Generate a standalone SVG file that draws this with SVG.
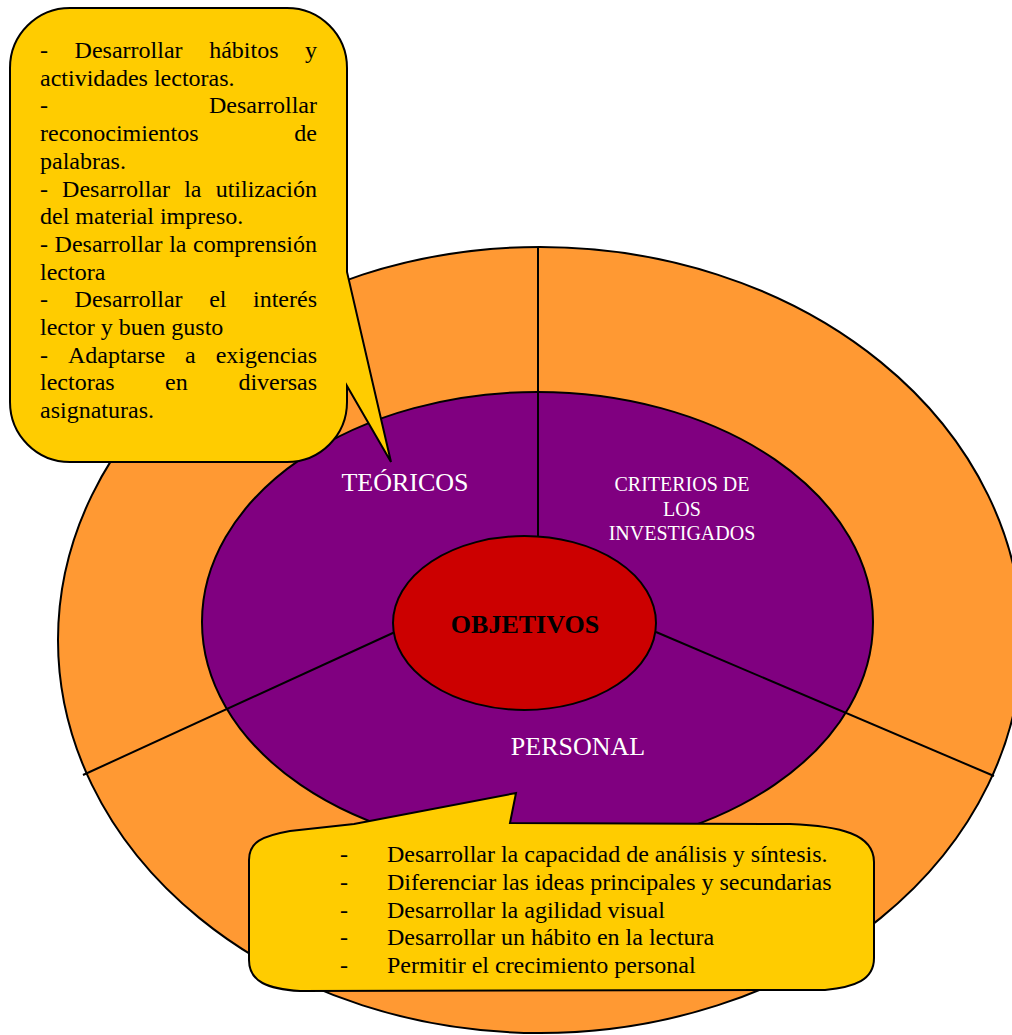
<svg xmlns="http://www.w3.org/2000/svg" width="1012" height="1035" viewBox="0 0 1012 1035">
<style>
.stk{stroke:#000;stroke-width:2}
.t{font-family:"Liberation Serif","Times New Roman",serif;font-size:24px;fill:#000}
.w{font-family:"Liberation Serif","Times New Roman",serif;fill:#fff}
.e{text-anchor:end}
</style>
<rect width="1012" height="1035" fill="#fff"/>
<g id="ring-outer">
<ellipse cx="540" cy="640" rx="482" ry="393" fill="#FF9933" class="stk"/>
</g>
<g id="ring-middle">
<ellipse cx="537.5" cy="622" rx="335.5" ry="230" fill="#800080" class="stk"/>
</g>
<g id="connectors" class="stk" fill="none">
<line x1="538" y1="247" x2="538" y2="537"/>
<line x1="395" y1="632" x2="83" y2="775"/>
<line x1="656" y1="632" x2="994" y2="776"/>
</g>
<g id="objetivos">
<ellipse cx="524.5" cy="623" rx="131.5" ry="87" fill="#CC0000" class="stk"/>
<text x="525" y="633" class="t" style="font-size:26px;font-weight:bold" text-anchor="middle">OBJETIVOS</text>
</g>
<g id="teoricos">
<text x="405" y="491" class="w" style="font-size:26px" text-anchor="middle">TEÓRICOS</text>
</g>
<g id="criterios">
<text class="w" style="font-size:20px" text-anchor="middle"><tspan x="682" y="491">CRITERIOS DE</tspan><tspan x="682" y="516">LOS</tspan><tspan x="682" y="540">INVESTIGADOS</tspan></text>
</g>
<g id="personal">
<text x="578" y="755" class="w" style="font-size:26px" text-anchor="middle">PERSONAL</text>
</g>
<g id="callout-teoricos">
<path d="M70,8 H287 A60,60 0 0 1 347,68 V272 L391,462 L347,386 V402 A60,60 0 0 1 287,462 H70 A60,60 0 0 1 10,402 V68 A60,60 0 0 1 70,8 Z" fill="#FFCC00" class="stk"/>
<text class="t">
<tspan x="40" y="58">-</tspan><tspan x="74.6" y="58">Desarrollar</tspan><tspan x="209.2" y="58">hábitos</tspan><tspan x="305" y="58">y</tspan>
<tspan x="40" y="85.7">actividades lectoras.</tspan>
<tspan x="40" y="113.4">-</tspan><tspan x="209" y="113.4">Desarrollar</tspan>
<tspan x="40" y="141.1">reconocimientos</tspan><tspan x="294.3" y="141.1">de</tspan>
<tspan x="40" y="168.8">palabras.</tspan>
<tspan x="40" y="196.5">-</tspan><tspan x="62.1" y="196.5">Desarrollar</tspan><tspan x="184.2" y="196.5">la</tspan><tspan x="215.7" y="196.5">utilización</tspan>
<tspan x="40" y="224.2">del material impreso.</tspan>
<tspan x="40" y="251.9">-</tspan><tspan x="54.6" y="251.9">Desarrollar</tspan><tspan x="169.2" y="251.9">la</tspan><tspan x="193" y="251.9">comprensión</tspan>
<tspan x="40" y="279.6">lectora</tspan>
<tspan x="40" y="307.3">-</tspan><tspan x="74.6" y="307.3">Desarrollar</tspan><tspan x="209.2" y="307.3">el</tspan><tspan x="253" y="307.3">interés</tspan>
<tspan x="40" y="335">lector y buen gusto</tspan>
<tspan x="40" y="362.7">-</tspan><tspan x="67.9" y="362.7">Adaptarse</tspan><tspan x="185.1" y="362.7">a</tspan><tspan x="215.7" y="362.7">exigencias</tspan>
<tspan x="40" y="390.4">lectoras</tspan><tspan x="165.1" y="390.4">en</tspan><tspan x="238.4" y="390.4">diversas</tspan>
<tspan x="40" y="418.1">asignaturas.</tspan>
</text>
</g>
<g id="callout-personal">
<path d="M249,860 C249,842 262,836 290,831 L354,824 L516,793 L510,823 L790,824 C840,826 874,834 874,862 V958 C874,980 855,987 825,990 L300,991 C268,989 249,982 249,960 Z" fill="#FFCC00" class="stk"/>
<text class="t">
<tspan x="340" y="862">-</tspan><tspan x="387" y="862">Desarrollar la capacidad de análisis y síntesis.</tspan>
<tspan x="340" y="889.75">-</tspan><tspan x="387" y="889.75">Diferenciar las ideas principales y secundarias</tspan>
<tspan x="340" y="917.5">-</tspan><tspan x="387" y="917.5">Desarrollar la agilidad visual</tspan>
<tspan x="340" y="945.25">-</tspan><tspan x="387" y="945.25">Desarrollar un hábito en la lectura</tspan>
<tspan x="340" y="973">-</tspan><tspan x="387" y="973">Permitir el crecimiento personal</tspan>
</text>
</g>
</svg>
